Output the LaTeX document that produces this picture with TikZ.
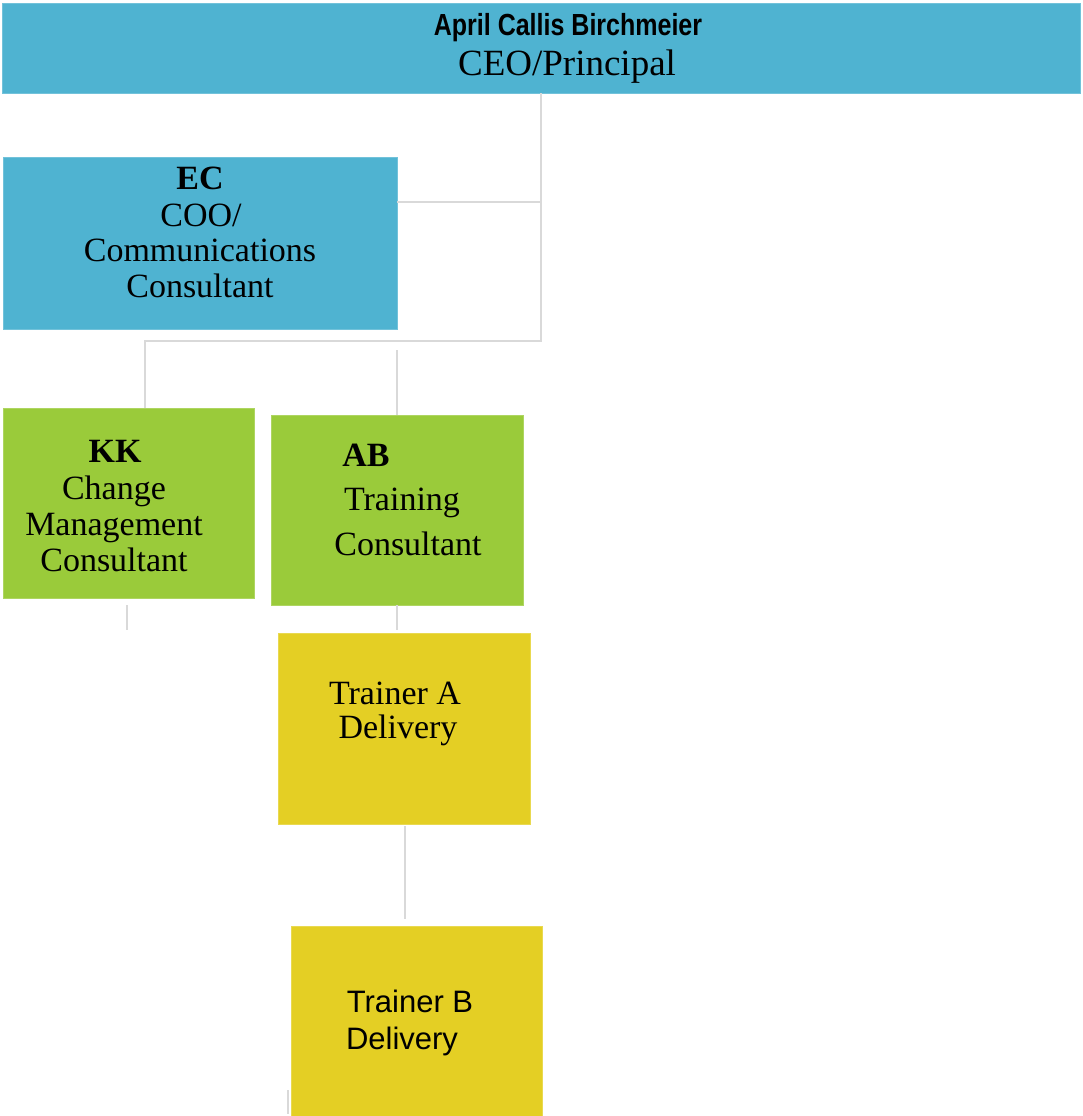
\documentclass[tikz,border=0pt]{standalone}
\usepackage{fontspec}
\setmainfont{Liberation Serif}
\newfontfamily\headfont[FakeStretch=0.82]{Liberation Sans}
\newfontfamily\arialfont{Liberation Sans}
\definecolor{cblue}{HTML}{4FB3D1}
\definecolor{cgreen}{HTML}{9ACB3A}
\definecolor{cyellow}{HTML}{E4CF24}
\definecolor{cline}{HTML}{D9D9D9}
\begin{document}
\begin{tikzpicture}[x=1pt,y=-1pt,
  box/.style={draw=#1!80!white, line width=0.8pt, fill=#1},
  conn/.style={draw=cline, line width=1.5pt},
  lbl/.style={anchor=base, inner sep=0pt, font=\fontsize{34}{36}\selectfont},
  blbl/.style={lbl, font=\fontsize{34}{36}\selectfont\bfseries},
  albl/.style={anchor=base, inner sep=0pt, font=\arialfont\fontsize{31}{36}\selectfont}]
\useasboundingbox (0,0) rectangle (1082,1116);
\fill[white] (0,0) rectangle (1082,1116);
% boxes
\path[box=cblue] (2,3) rectangle (1080,93);
\node[inner sep=0pt, minimum width=1078pt, minimum height=90pt] (ceo) at (541,48) {};
\path[box=cblue] (3,157) rectangle (397,329);
\node[inner sep=0pt, minimum width=394pt, minimum height=172pt] (ec) at (200,243) {};
\path[box=cgreen] (3,408) rectangle (254,598);
\node[inner sep=0pt, minimum width=251pt, minimum height=190pt] (kk) at (128.5,503) {};
\path[box=cgreen] (271,415) rectangle (523,605);
\node[inner sep=0pt, minimum width=252pt, minimum height=190pt] (ab) at (397,510) {};
\path[box=cyellow] (278,633) rectangle (530,824);
\node[inner sep=0pt, minimum width=252pt, minimum height=191pt] (ta) at (404,728.5) {};
\path[box=cyellow] (291,926) rectangle (542,1120);
\node[inner sep=0pt, minimum width=251pt, minimum height=190pt] (tb) at (416.5,1021) {};
% junctions
\coordinate (j1) at (541,341);
\coordinate (ecR) at (397,202);
\coordinate (kkT) at (145,341);
\coordinate (abT) at (397,350);
\coordinate (kkB) at (127,630);
\coordinate (abB) at (397,630);
\coordinate (taB) at (405,919);
\coordinate (tbL) at (288,1090);
% connectors
\draw[conn] (ceo.south -| j1) -- (j1) -- (kkT) -- (kkT |- kk.north);
\draw[conn] (ecR) -- (ecR -| j1);
\draw[conn] (abT) -- (abT |- ab.north);
\draw[conn] (kkB |- kk.south) ++(0,7) -- (kkB);
\draw[conn] (abB |- ab.south) -- (abB);
\draw[conn] (taB |- ta.south) ++(0,2) -- (taB);
\draw[conn] (tbL) -- (288,1114);
% texts
\node[anchor=base, inner sep=0pt, font=\headfont\bfseries\fontsize{30.5}{32}\selectfont] (t1) at (568,36) {April Callis Birchmeier};
\node[lbl, font=\fontsize{37}{38}\selectfont] (t2) at (567,75) {CEO/Principal};
\node[blbl] (t3) at (200,189) {EC};
\node[lbl] (t4) at (201,226) {COO/};
\node[lbl] (t5) at (200,261) {Communications};
\node[lbl] (t6) at (200,297) {Consultant};
\node[blbl] (t7) at (115,462) {KK};
\node[lbl] (t8) at (114,499) {Change};
\node[lbl] (t9) at (114,535) {Management};
\node[lbl] (t10) at (114,571) {Consultant};
\node[blbl] (t11) at (366,466) {AB};
\node[lbl] (t12) at (402,510) {Training};
\node[lbl] (t13) at (408,555) {Consultant};
\node[lbl] (t14) at (395,704) {Trainer A};
\node[lbl] (t15) at (398,738) {Delivery};
\node[albl] (t16) at (410,1012) {Trainer B};
\node[albl] (t17) at (402,1049) {Delivery};
\end{tikzpicture}
\end{document}
